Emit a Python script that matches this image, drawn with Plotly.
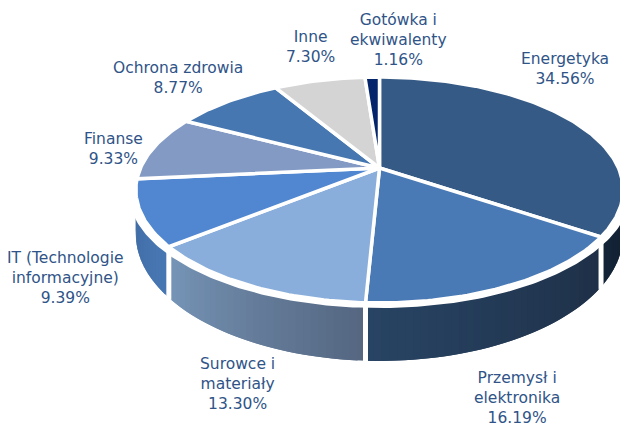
import numpy as np
import plotly.graph_objects as go

categories = ["Energetyka", "Przemysł i<br>elektronika", "Surowce i<br>materiały",
              "IT (Technologie<br>informacyjne)", "Finanse", "Ochrona zdrowia",
              "Inne", "Gotówka i<br>ekwiwalenty"]
values = [34.56, 16.19, 13.30, 9.39, 9.33, 8.77, 7.30, 1.16]
top_colors = ["#355A85", "#4A7AB5", "#89AEDB", "#5087D0", "#829AC4", "#4677B1", "#D4D4D4", "#04256B"]
wall_colors = {0: ((17, 30, 48), (20, 36, 56)),
               1: ((30, 47, 70), (40, 68, 100)),
               2: ((84, 102, 128), (119, 150, 184)),
               3: ((72, 120, 180), (64, 106, 162))}
label_xy = [(565, 69), (517, 398), (237, 384), (65, 278), (113, 149), (178, 78), (310, 47), (398, 40)]

W, H = 620, 426
CX, CY, A, B, K = 379.5, 168.0, 239.0, 108.7, 0.1947
TEXT = "#2F5488"
FONT = "DejaVu Sans"


def project(theta_deg, r=1.0):
    t = np.radians(theta_deg)
    u, v = r * np.sin(t), r * np.cos(t)
    w = 1 + K * v
    return CX + A * u / w, CY - B * v / w, w


def lower(theta_deg):
    x, y, w = project(theta_deg)
    return x, y + 58 * (0.805 / w) ** 1.5


def poly(x, y, color, line=None, width=0):
    return go.Scatter(x=list(x), y=list(y), mode="lines", fill="toself", fillcolor=color,
                      line=dict(color=line or color, width=width), hoverinfo="skip", showlegend=False)


cum = np.concatenate([[0], np.cumsum(values)]) * 3.6
fig = go.Figure()

# side wall, split into overlapping strips for the gradient
ranges = {0: (90.0, cum[1]), 1: (cum[1], cum[2]), 2: (cum[2], cum[3]), 3: (cum[3], 262.0)}
for idx, (a, b) in ranges.items():
    c0, c1 = wall_colors[idx]
    n = max(int((b - a) / 1.5), 2)
    edges = np.linspace(a, b, n + 1)
    for i in range(n):
        f = (i + 0.5) / n
        col = "rgb(%d,%d,%d)" % tuple(round(c0[k] + (c1[k] - c0[k]) * f) for k in range(3))
        th = np.linspace(edges[i], b, 4) if i == n - 1 else np.linspace(edges[i], min(edges[i + 2], b), 4)
        xu, yu, _ = project(th)
        xl, yl = lower(th[::-1])
        fig.add_trace(poly(np.r_[xu, xl, xu[0]], np.r_[yu, yl, yu[0]], col))

# white bevel between top and wall
th = np.linspace(0, 360, 361)
xo, yo, _ = project(th, 1.03)
xi, yi, _ = project(th[::-1], 1.0)
fig.add_trace(poly(np.r_[xo, xi], np.r_[yo, yi], "#FFFFFF"))

# white gaps between wall segments
for ang in cum[1:4]:
    xu, yu, _ = project(ang, 1.0)
    xl, yl = lower(ang)
    fig.add_trace(go.Scatter(x=[xu, xl], y=[yu, yl + 2], mode="lines",
                             line=dict(color="#FFFFFF", width=5),
                             hoverinfo="skip", showlegend=False))

# top face
for i, col in enumerate(top_colors):
    th = np.linspace(cum[i], cum[i + 1], max(int(values[i] * 3.6), 3) + 1)
    x, y, _ = project(th)
    fig.add_trace(poly(np.r_[CX, x, CX], np.r_[CY, y, CY], col, line="#FFFFFF", width=3.5))

for name, val, (lx, ly) in zip(categories, values, label_xy):
    fig.add_annotation(x=lx, y=ly, text=f"{name}<br>{val:.2f}%", showarrow=False,
                       xanchor="center", yanchor="middle", align="center",
                       font=dict(family=FONT, size=15.5, color=TEXT))

fig.update_layout(width=W, height=H, autosize=False, margin=dict(l=0, r=0, t=0, b=0),
                  paper_bgcolor="#FFFFFF", plot_bgcolor="#FFFFFF", showlegend=False,
                  xaxis=dict(range=[0, W], visible=False, fixedrange=True),
                  yaxis=dict(range=[H, 0], visible=False, fixedrange=True))
fig.write_html("out.html", config={"displayModeBar": False},
               post_script="document.body.style.margin='0';document.documentElement.style.overflow='hidden';")
